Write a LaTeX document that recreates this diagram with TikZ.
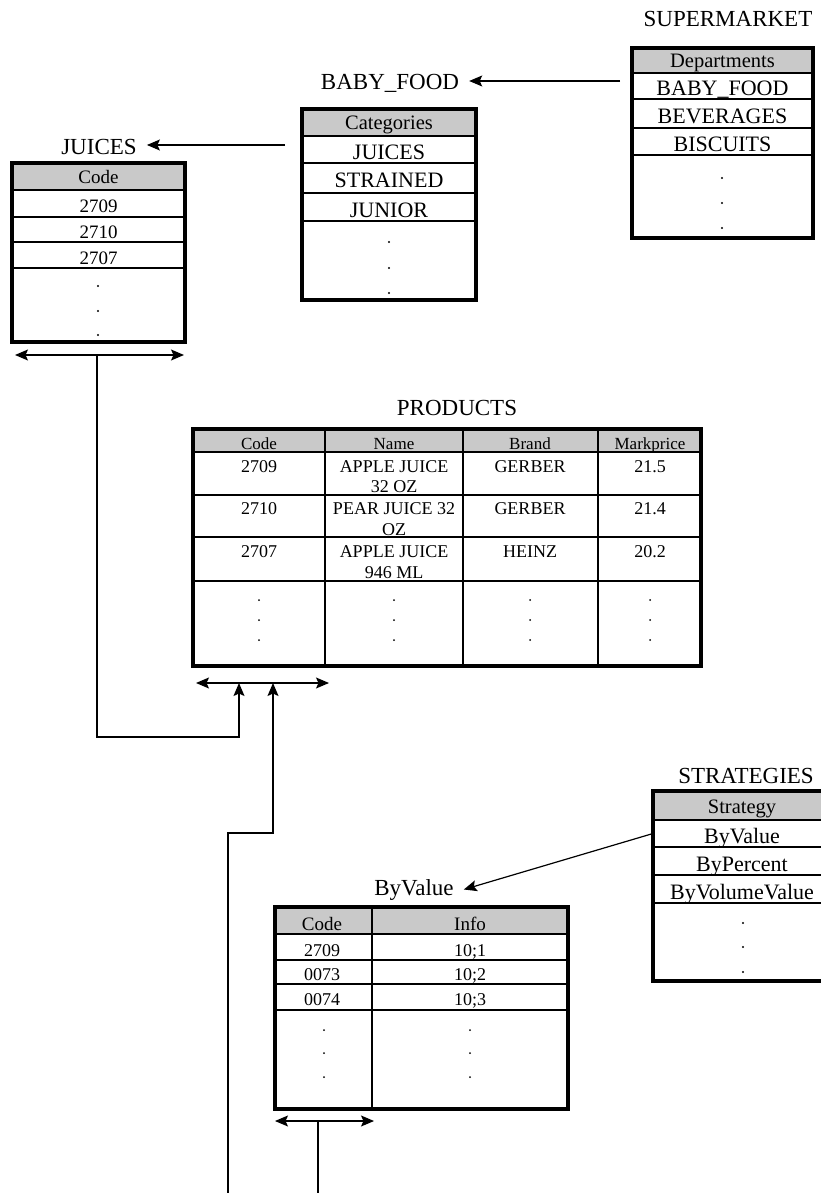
\documentclass[tikz,border=0pt]{standalone}
\usepackage{fontspec}
\setmainfont{Liberation Serif}
\usetikzlibrary{arrows.meta,positioning}
\definecolor{headgray}{HTML}{C9C9C9}

\begin{document}
\begin{tikzpicture}[x=1pt,y=-1pt,
  tabtitle/.style={anchor=base, inner xsep=10pt, inner ysep=3pt, font=\fontsize{23}{23}\selectfont},
  cell/.style={draw, line width=2pt, inner sep=0pt, outer sep=0pt,
    font=\fontsize{22}{22}\selectfont, text height=21pt, text depth=1pt},
  head/.style={cell, fill=headgray, font=\fontsize{20.5}{20.5}\selectfont, text height=16pt},
  codecell/.style={cell, font=\fontsize{19}{19}\selectfont, text height=19pt},
  ptext/.style={anchor=base, inner sep=0pt, font=\fontsize{18}{18}\selectfont},
  outline/.style={line width=3.5pt},
  rowline/.style={line width=2pt},
  link/.style={line width=1.2pt},
  arrowto/.style={-{Stealth[length=13pt,width=11pt,inset=2.5pt]}},
  arrowboth/.style={{Stealth[length=13pt,width=11pt,inset=2.5pt]}-{Stealth[length=13pt,width=11pt,inset=2.5pt]}}]
  \useasboundingbox (0,0) rectangle (820,1193);

  % SUPERMARKET
  \node[tabtitle] (super) at (728,27) {SUPERMARKET};
  \begin{scope}[every node/.append style={minimum width=181pt}]
    \node[head, minimum height=25pt, anchor=north west] (sm0) at (632,48) {Departments};
    \node[cell, minimum height=26pt, below=0pt of sm0] (sm1) {BABY\_FOOD};
    \node[cell, minimum height=29pt, below=0pt of sm1] (sm2) {BEVERAGES};
    \node[cell, minimum height=27pt, below=0pt of sm2] (sm3) {BISCUITS};
    \node[cell, minimum height=83pt, below=0pt of sm3] (sm4) {};
  \end{scope}
  \draw[outline] (sm0.north west) rectangle (sm4.south east);
  \foreach \y in {178,203,228} \fill (722,\y) circle (1.2pt);

  % BABY_FOOD
  \node[tabtitle] (babyfood) at (390,90) {BABY\_FOOD};
  \begin{scope}[every node/.append style={minimum width=174pt}]
    \node[head, minimum height=27pt, anchor=north west] (bf0) at (302,109) {Categories};
    \node[cell, minimum height=27pt, below=0pt of bf0] (bf1) {JUICES};
    \node[cell, minimum height=30pt, below=0pt of bf1] (bf2) {STRAINED};
    \node[cell, minimum height=28pt, below=0pt of bf2] (bf3) {JUNIOR};
    \node[cell, minimum height=79pt, below=0pt of bf3] (bf4) {};
  \end{scope}
  \draw[outline] (bf0.north west) rectangle (bf4.south east);
  \foreach \y in {242,268,293} \fill (389,\y) circle (1.2pt);

  \coordinate (smtail) at (620,81);
  \draw[link, arrowto] (smtail) -- (smtail -| babyfood.east);

  % JUICES
  \node[tabtitle] (juices) at (99,155) {JUICES};
  \begin{scope}[every node/.append style={minimum width=173pt}]
    \node[head, font=\fontsize{19}{19}\selectfont, minimum height=27pt, anchor=north west] (ju0) at (12,163) {Code};
    \node[codecell, minimum height=27pt, below=0pt of ju0] (ju1) {2709};
    \node[codecell, minimum height=25pt, below=0pt of ju1] (ju2) {2710};
    \node[codecell, minimum height=26pt, below=0pt of ju2] (ju3) {2707};
    \node[codecell, minimum height=74pt, below=0pt of ju3] (ju4) {};
  \end{scope}
  \draw[outline] (ju0.north west) rectangle (ju4.south east);
  \foreach \y in {286,311,335} \fill (98,\y) circle (1.2pt);

  \coordinate (bftail) at (285,145);
  \draw[link, arrowto] (bftail) -- (bftail -| juices.east);

  % PRODUCTS
  \node[tabtitle] (products) at (457,415) {PRODUCTS};
  \fill[headgray] (193,429) rectangle (701,452);
  \foreach \y in {452,495,537,581} \draw[rowline] (193,\y) -- (701,\y);
  \foreach \x in {325,463,598} \draw[rowline] (\x,429) -- (\x,666);
  \draw[outline] (193,429) rectangle (701,666);
  \node[ptext, font=\fontsize{17}{17}\selectfont] (pcode) at (259,449) {Code};
  \node[ptext, font=\fontsize{17}{17}\selectfont] (pname) at (394,449) {Name};
  \node[ptext, font=\fontsize{17}{17}\selectfont] (pbrand) at (530,449) {Brand};
  \node[ptext, font=\fontsize{17}{17}\selectfont] (pprice) at (650,449) {Markprice};
  % first row
  \node[ptext] (p1a) at (259,472) {2709};
  \node[ptext] (p1b) at (394,472) {APPLE JUICE};
  \node[ptext] (p1bb) at (394,492) {32 OZ};
  \node[ptext] (p1c) at (530,472) {GERBER};
  \node[ptext] (p1d) at (650,472) {21.5};
  % second row
  \node[ptext] (p2a) at (259,514) {2710};
  \node[ptext] (p2b) at (394,514) {PEAR JUICE 32};
  \node[ptext] (p2bb) at (394,535) {OZ};
  \node[ptext] (p2c) at (530,514) {GERBER};
  \node[ptext] (p2d) at (650,514) {21.4};
  % third row
  \node[ptext] (p3a) at (259,557) {2707};
  \node[ptext] (p3b) at (394,557) {APPLE JUICE};
  \node[ptext] (p3bb) at (394,578) {946 ML};
  \node[ptext] (p3c) at (530,557) {HEINZ};
  \node[ptext] (p3d) at (650,557) {20.2};
  \foreach \x in {259,394,530,650}
    \foreach \y in {600,620,640} \fill (\x,\y) circle (1pt);

  % key links into PRODUCTS
  \coordinate (juL) at (15,355);
  \coordinate (juR) at (184,355);
  \coordinate (judrop) at (97,355);
  \coordinate (jubend) at (97,737);
  \draw[link, arrowboth] (juL) -- (juR);
  \coordinate (prL) at (196,683);
  \coordinate (prR) at (329,683);
  \coordinate (prA) at (239,683);
  \coordinate (prB) at (273,683);
  \draw[link, arrowboth] (prL) -- (prR);
  \draw[link, arrowto] (judrop) -- (jubend) -| (prA);
  \coordinate (lowend) at (228,1193);
  \coordinate (lowbend) at (228,833);
  \draw[link, arrowto] (lowend) -- (lowbend) -| (prB);

  % STRATEGIES
  \node[tabtitle] (strategies) at (746,783) {STRATEGIES};
  \begin{scope}[every node/.append style={minimum width=178pt}]
    \node[head, minimum height=29pt, anchor=north west] (st0) at (653,791) {Strategy};
    \node[cell, minimum height=27pt, below=0pt of st0] (st1) {ByValue};
    \node[cell, minimum height=28pt, below=0pt of st1] (st2) {ByPercent};
    \node[cell, minimum height=28pt, below=0pt of st2] (st3) {ByVolumeValue};
    \node[cell, minimum height=78pt, below=0pt of st3] (st4) {};
  \end{scope}
  \draw[outline] (st0.north west) rectangle (st4.south east);
  \foreach \y in {923,947,972} \fill (743,\y) circle (1.2pt);

  % ByValue
  \node[tabtitle] (byvalue) at (414,895) {ByValue};
  \draw[link, arrowto] (st1.west) -- (byvalue.east);
  \fill[headgray] (275,907) rectangle (568,934);
  \foreach \y in {934,960,984,1010} \draw[rowline] (275,\y) -- (568,\y);
  \draw[line width=2.5pt] (372,907) -- (372,1109);
  \draw[outline] (275,907) rectangle (568,1109);
  \node[ptext, font=\fontsize{19}{19}\selectfont] (bvcode) at (322,930) {Code};
  \node[ptext, font=\fontsize{19}{19}\selectfont] (bvinfo) at (470,930) {Info};
  \node[ptext] (bv1a) at (322,956) {2709};
  \node[ptext] (bv1b) at (470,956) {10;1};
  \node[ptext] (bv2a) at (322,980) {0073};
  \node[ptext] (bv2b) at (470,980) {10;2};
  \node[ptext] (bv3a) at (322,1005) {0074};
  \node[ptext] (bv3b) at (470,1005) {10;3};
  \foreach \x in {324,470}
    \foreach \y in {1030,1053,1077} \fill (\x,\y) circle (1pt);

  \coordinate (bvL) at (275,1121);
  \coordinate (bvR) at (374,1121);
  \coordinate (bvdrop) at (318,1121);
  \coordinate (bvend) at (318,1193);
  \draw[link, arrowboth] (bvL) -- (bvR);
  \draw[link] (bvdrop) -- (bvend);
\end{tikzpicture}
\end{document}
